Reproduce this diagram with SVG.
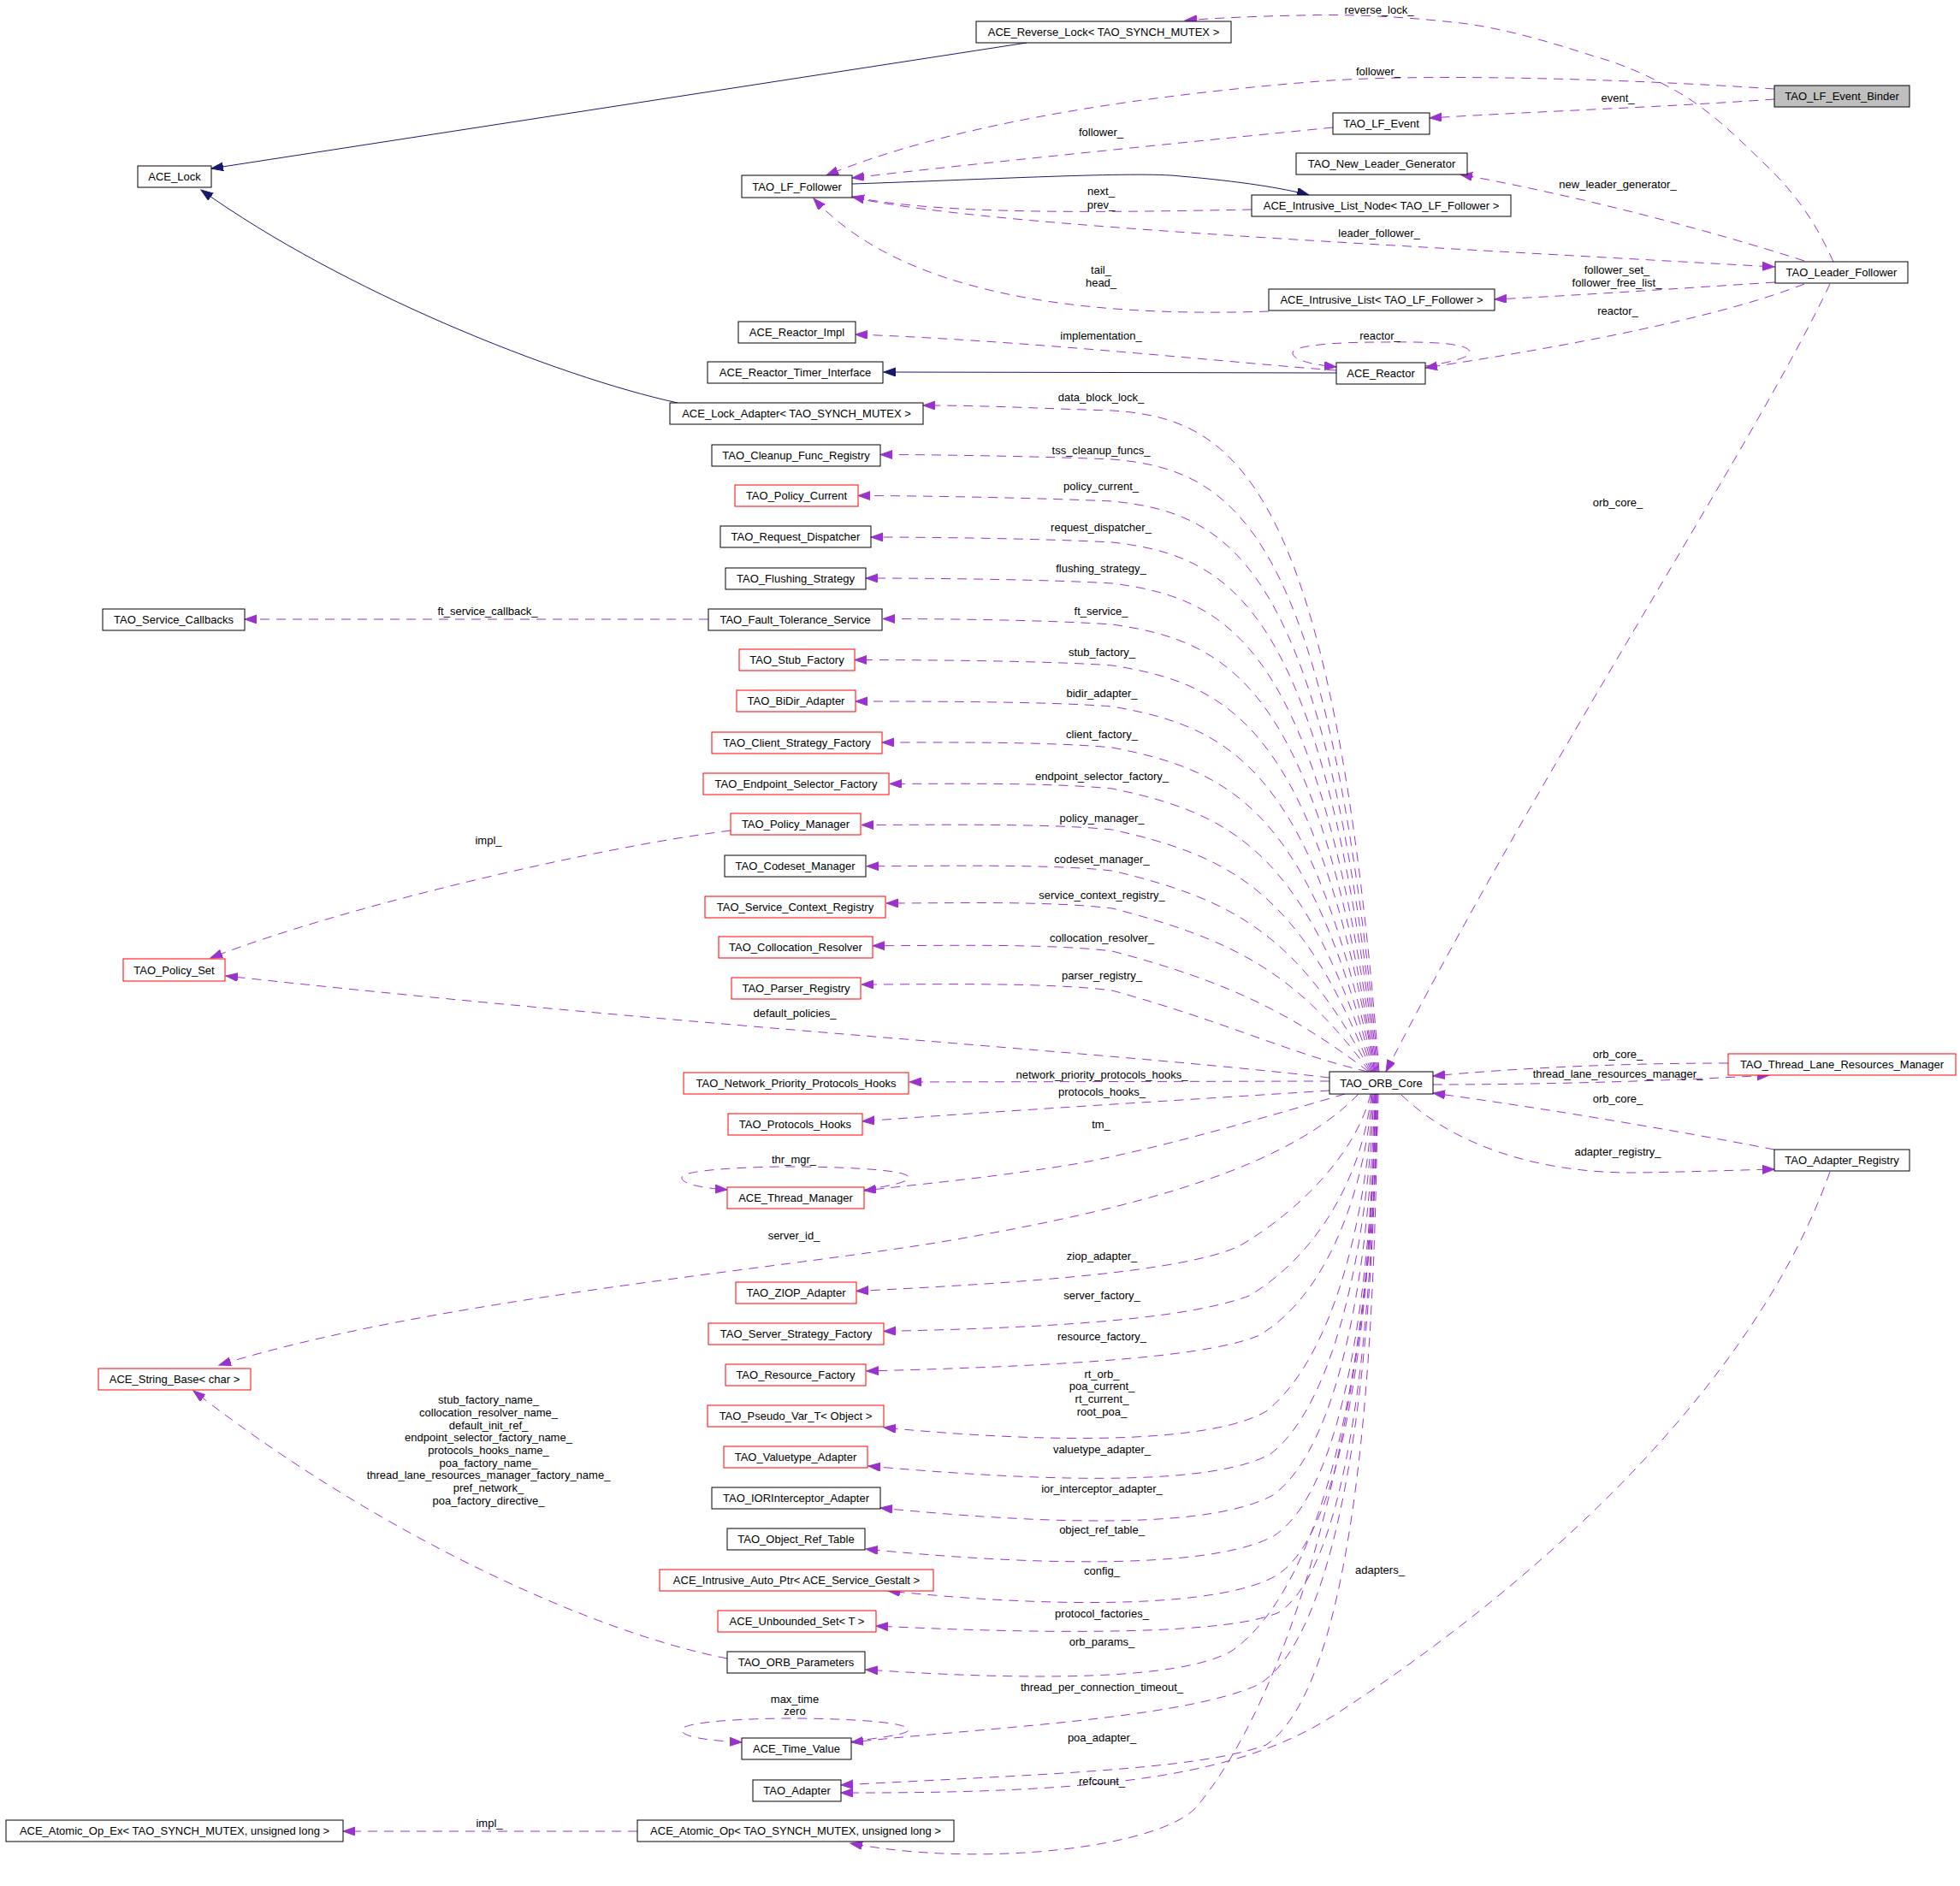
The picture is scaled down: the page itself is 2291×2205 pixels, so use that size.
<svg xmlns="http://www.w3.org/2000/svg" width="2291" height="2205" viewBox="0 0 2291 2205">
<style>
.n rect{fill:#ffffff;stroke:#000000;stroke-width:1}
.n.r rect{stroke:#ff0000}
.n.g rect{fill:#bfbfbf}
text{font-family:"Liberation Sans",Arial,sans-serif;font-size:13px;fill:#000000;text-anchor:middle}
.e path{fill:none;stroke:#9a32cd;stroke-width:1;stroke-dasharray:11,8;marker-end:url(#ap)}
.s path{fill:none;stroke:#191970;stroke-width:1;marker-end:url(#ab)}
</style>
<defs>
<marker id="ap" markerUnits="userSpaceOnUse" viewBox="0 0 16 12" markerWidth="16" markerHeight="12" refX="14" refY="5" orient="auto"><path d="M0,0 L14,5 L0,10 z" fill="#9a32cd" stroke="#9a32cd" stroke-width="1"/></marker>
<marker id="ab" markerUnits="userSpaceOnUse" viewBox="0 0 16 12" markerWidth="16" markerHeight="12" refX="14" refY="5" orient="auto"><path d="M0,0 L14,5 L0,10 z" fill="#191970" stroke="#191970" stroke-width="1"/></marker>
</defs>
<rect x="0" y="0" width="2291" height="2205" fill="#ffffff"/>
<g id="connectors">
<g class="s">
<path d="M1200,50 L247,197"/>
<path d="M792,471 C650,440 400,340 235,222"/>
<path d="M996,215 C1150,210 1330,200 1380,206 C1450,212 1500,220 1530,228"/>
<path d="M1562,436 L1033,435"/>
</g>
<g class="e">
<path d="M2143,306 C2120,255 2095,222 2060,189 C2030,160 2000,130 1962,108 C1930,90 1900,76 1864,66 C1820,52 1770,36 1716,28 C1650,20 1580,16 1520,18 C1470,19 1420,21 1385,24"/>
<path d="M2074,104 C1900,92 1650,85 1530,96 C1300,115 1100,150 966,205"/>
<path d="M2074,116 C1950,125 1800,130 1671,138"/>
<path d="M1558,149 C1400,165 1150,190 996,208"/>
<path d="M2109,305 C2000,270 1850,230 1707,204"/>
<path d="M1463,245 C1300,248 1100,252 996,230"/>
<path d="M996,231 C1150,262 1500,280 2074,312"/>
<path d="M1483,364 C1250,372 1050,340 951,232"/>
<path d="M2075,330 C1950,338 1850,345 1747,350"/>
<path d="M2109,332 C2000,375 1800,410 1666,430"/>
<path d="M1666,428 C1700,423 1720,417 1718,411 C1714,398 1640,400 1613,400 C1560,400 1512,404 1511,412 C1510,420 1530,426 1562,429"/>
<path d="M1562,433 C1450,425 1200,398 1000,391"/>
<path d="M2139,332 C2050,520 1800,900 1620,1253"/>
<path d="M1612,1253 C1558,554 1440,489 1300,480 C1225,478 1159,474 1079,474"/>
<path d="M1611,1253 C1554,611 1440,549 1300,537 C1225,534 1109,531.5 1029,531.5"/>
<path d="M1610,1253 C1550,660 1440,600 1300,586 C1225,582.5 1083,579.5 1003,579.5"/>
<path d="M1609,1253 C1547,708 1440,650 1300,634 C1225,630 1098,628 1018,628"/>
<path d="M1608,1253 C1543,756 1440,700 1300,682 C1225,677.5 1092,676 1012,676"/>
<path d="M1607,1253 C1540,804 1440,750 1300,730 C1225,725 1112,723.5 1032,723.5"/>
<path d="M828,724 L286,724"/>
<path d="M1607,1253 C1536,852 1440,800 1300,778 C1225,772.5 1079,771.5 999,771.5"/>
<path d="M1606,1253 C1532,900 1440,850 1300,826 C1225,820 1080,820 1000,820"/>
<path d="M1605,1253 C1529,948 1440,901 1300,874 C1225,867 1111,868 1031,868"/>
<path d="M1604,1253 C1525,996 1440,951 1300,922 C1225,914.8 1120,916.4 1040,916.4"/>
<path d="M1603,1253 C1522,1044 1440,1001 1300,970 C1225,962.3 1087,964.5 1007,964.5"/>
<path d="M1602,1253 C1518,1092 1440,1051 1300,1018 C1225,1009.7 1093,1012.7 1013,1012.7"/>
<path d="M1601,1253 C1515,1136 1440,1098 1300,1062 C1225,1053 1116,1056 1036,1056"/>
<path d="M1600,1253 C1511,1186 1440,1149 1300,1112 C1225,1102.8 1100,1105.7 1020,1105.7"/>
<path d="M1599,1253 C1508,1232 1440,1197 1300,1158 C1225,1148.2 1087,1151 1007,1151"/>
<path d="M854,971 C700,990 400,1060 246,1120"/>
<path d="M1554,1260 C1300,1230 800,1200 264,1141"/>
<path d="M1554,1264 L1063,1265"/>
<path d="M1554,1275 C1400,1285 1150,1300 1008,1311"/>
<path d="M1572,1279 C1500,1300 1350,1345 1250,1362 C1150,1378 1060,1386 1010,1392"/>
<path d="M1010,1391 C1045,1386 1064,1381 1062,1376 C1058,1366 960,1364 927,1364 C870,1364 800,1368 797,1376 C795,1384 820,1389 850,1391"/>
<path d="M1588,1279 C1510,1360 1350,1410 1100,1452 C900,1485 500,1520 256,1596"/>
<path d="M2020,1243 C1900,1243 1780,1248 1675,1258"/>
<path d="M1675,1268 C1800,1268 1950,1264 2068,1257"/>
<path d="M2074,1344 C1950,1320 1800,1295 1675,1278"/>
<path d="M1638,1280 C1700,1340 1800,1372 1913,1371 C1980,1370 2030,1368 2074,1367"/>
<path d="M1602,1279 C1588,1340 1528,1410 1450,1456 C1390,1486 1200,1500 1001,1509.4"/>
<path d="M1603,1279 C1592,1380 1536,1470 1460,1515 C1380,1545 1200,1553 1033,1556.4"/>
<path d="M1604,1279 C1595,1400 1546,1520 1470,1562 C1400,1590 1200,1598 1013,1603"/>
<path d="M1605,1279 C1597,1430 1556,1590 1480,1650 C1420,1685 1250,1690 1033,1669"/>
<path d="M1606,1279 C1599,1450 1562,1640 1485,1700 C1420,1735 1250,1735 1015,1714"/>
<path d="M1607,1279 C1601,1480 1567,1690 1488,1748 C1420,1785 1250,1785 1029,1763"/>
<path d="M1608,1279 C1603,1500 1572,1740 1490,1795 C1430,1830 1250,1835 1012,1811"/>
<path d="M1608,1279 C1604,1520 1575,1790 1492,1842 C1430,1878 1250,1882 1038,1860"/>
<path d="M1609,1279 C1605,1550 1577,1830 1495,1885 C1440,1910 1250,1912 1024,1901"/>
<path d="M1607,1279 C1604,1620 1540,1860 1440,1930 C1380,1965 1200,1965 1012,1952"/>
<path d="M850,1939 C700,1910 450,1800 226,1626"/>
<path d="M1609,1279 C1606,1650 1557,1920 1470,1970 C1380,2010 1150,2020 995,2037"/>
<path d="M995,2036 C1035,2031 1063,2027 1062,2022 C1058,2011 960,2009 927,2009 C870,2009 800,2013 797,2022 C795,2031 830,2035 867,2037"/>
<path d="M1610,1279 C1607,1700 1567,1980 1480,2040 C1400,2070 1200,2075 983,2087"/>
<path d="M2139,1370 C2050,1620 1800,1850 1560,2005 C1450,2075 1300,2097 983,2096"/>
<path d="M1611,1279 C1605,1600 1530,1950 1400,2111 C1361,2159 1150,2185 994,2155"/>
<path d="M745,2141 L401,2141"/>
</g>
<g id="edge-labels">
<text x="1612" y="16">reverse_lock_</text>
<text x="1611" y="88">follower_</text>
<text x="1891" y="119">event_</text>
<text x="1287" y="159">follower_</text>
<text x="1891" y="220">new_leader_generator_</text>
<text x="1287" y="228">next_</text>
<text x="1287" y="244">prev_</text>
<text x="1612" y="277">leader_follower_</text>
<text x="1287" y="320">tail_</text>
<text x="1287" y="335">head_</text>
<text x="1890" y="320">follower_set_</text>
<text x="1890" y="335">follower_free_list_</text>
<text x="1891" y="368">reactor_</text>
<text x="1613" y="397">reactor_</text>
<text x="1287" y="397">implementation_</text>
<text x="1287" y="469">data_block_lock_</text>
<text x="1287" y="531">tss_cleanup_funcs_</text>
<text x="1287" y="573">policy_current_</text>
<text x="1287" y="621">request_dispatcher_</text>
<text x="1287" y="669">flushing_strategy_</text>
<text x="1287" y="719">ft_service_</text>
<text x="570" y="719">ft_service_callback_</text>
<text x="1891" y="592">orb_core_</text>
<text x="1288" y="767">stub_factory_</text>
<text x="1288" y="815">bidir_adapter_</text>
<text x="1288" y="863">client_factory_</text>
<text x="1288" y="912">endpoint_selector_factory_</text>
<text x="1288" y="961">policy_manager_</text>
<text x="1288" y="1009">codeset_manager_</text>
<text x="1288" y="1051">service_context_registry_</text>
<text x="1288" y="1101">collocation_resolver_</text>
<text x="1288" y="1145">parser_registry_</text>
<text x="571" y="987">impl_</text>
<text x="929" y="1189">default_policies_</text>
<text x="1288" y="1261">network_priority_protocols_hooks_</text>
<text x="1288" y="1281">protocols_hooks_</text>
<text x="1287" y="1319">tm_</text>
<text x="928" y="1360">thr_mgr_</text>
<text x="928" y="1449">server_id_</text>
<text x="1891" y="1237">orb_core_</text>
<text x="1891" y="1260">thread_lane_resources_manager_</text>
<text x="1891" y="1289">orb_core_</text>
<text x="1891" y="1351">adapter_registry_</text>
<text x="1288" y="1473">ziop_adapter_</text>
<text x="1288" y="1519">server_factory_</text>
<text x="1288" y="1567">resource_factory_</text>
<text x="1288" y="1611">rt_orb_</text>
<text x="1288" y="1625">poa_current_</text>
<text x="1288" y="1640">rt_current_</text>
<text x="1288" y="1655">root_poa_</text>
<text x="1288" y="1699">valuetype_adapter_</text>
<text x="1288" y="1745">ior_interceptor_adapter_</text>
<text x="1288" y="1793">object_ref_table_</text>
<text x="1288" y="1841">config_</text>
<text x="1288" y="1891">protocol_factories_</text>
<text x="1288" y="1924">orb_params_</text>
<text x="1288" y="1977">thread_per_connection_timeout_</text>
<text x="929" y="1991">max_time</text>
<text x="929" y="2005">zero</text>
<text x="1288" y="2036">poa_adapter_</text>
<text x="1288" y="2087">refcount_</text>
<text x="571" y="1641">stub_factory_name_</text>
<text x="571" y="1656">collocation_resolver_name_</text>
<text x="571" y="1671">default_init_ref_</text>
<text x="571" y="1685">endpoint_selector_factory_name_</text>
<text x="571" y="1700">protocols_hooks_name_</text>
<text x="571" y="1715">poa_factory_name_</text>
<text x="571" y="1729">thread_lane_resources_manager_factory_name_</text>
<text x="571" y="1744">pref_network_</text>
<text x="571" y="1759">poa_factory_directive_</text>
<text x="1613" y="1840">adapters_</text>
<text x="572" y="2136">impl_</text>
</g>
</g>
<g id="n1" class="n"><rect x="1141" y="25" width="298" height="25"/><text x="1290" y="42">ACE_Reverse_Lock&lt; TAO_SYNCH_MUTEX &gt;</text></g>
<g id="n2" class="n"><rect x="161" y="194" width="86" height="25"/><text x="204" y="211">ACE_Lock</text></g>
<g id="n3" class="n g"><rect x="2074" y="100" width="158" height="25"/><text x="2153" y="117">TAO_LF_Event_Binder</text></g>
<g id="n4" class="n"><rect x="1558" y="132" width="113" height="25"/><text x="1614.5" y="149">TAO_LF_Event</text></g>
<g id="n5" class="n"><rect x="1515" y="179" width="200" height="25"/><text x="1615" y="196">TAO_New_Leader_Generator</text></g>
<g id="n6" class="n"><rect x="867" y="205" width="129" height="26"/><text x="931.5" y="222.5">TAO_LF_Follower</text></g>
<g id="n7" class="n"><rect x="1463" y="228" width="303" height="25"/><text x="1614.5" y="245">ACE_Intrusive_List_Node&lt; TAO_LF_Follower &gt;</text></g>
<g id="n8" class="n"><rect x="2075" y="306" width="155" height="25"/><text x="2152.5" y="323">TAO_Leader_Follower</text></g>
<g id="n9" class="n"><rect x="1483" y="338" width="264" height="25"/><text x="1615" y="355">ACE_Intrusive_List&lt; TAO_LF_Follower &gt;</text></g>
<g id="n10" class="n"><rect x="863" y="376" width="137" height="25"/><text x="931.5" y="393">ACE_Reactor_Impl</text></g>
<g id="n11" class="n"><rect x="827" y="423" width="205" height="25"/><text x="929.5" y="440">ACE_Reactor_Timer_Interface</text></g>
<g id="n12" class="n"><rect x="1562" y="424" width="104" height="25"/><text x="1614" y="441">ACE_Reactor</text></g>
<g id="n13" class="n"><rect x="783" y="471" width="296" height="25"/><text x="931" y="488">ACE_Lock_Adapter&lt; TAO_SYNCH_MUTEX &gt;</text></g>
<g id="n14" class="n"><rect x="832" y="520" width="197" height="25"/><text x="930.5" y="537">TAO_Cleanup_Func_Registry</text></g>
<g id="n15" class="n r"><rect x="859" y="567" width="144" height="25"/><text x="931" y="584">TAO_Policy_Current</text></g>
<g id="n16" class="n"><rect x="842" y="615" width="176" height="25"/><text x="930" y="632">TAO_Request_Dispatcher</text></g>
<g id="n17" class="n"><rect x="848" y="664" width="164" height="25"/><text x="930" y="681">TAO_Flushing_Strategy</text></g>
<g id="n18" class="n"><rect x="120" y="712" width="166" height="25"/><text x="203" y="729">TAO_Service_Callbacks</text></g>
<g id="n19" class="n"><rect x="828" y="712" width="203" height="25"/><text x="929.5" y="729">TAO_Fault_Tolerance_Service</text></g>
<g id="n20" class="n r"><rect x="864" y="759" width="135" height="25"/><text x="931.5" y="776">TAO_Stub_Factory</text></g>
<g id="n21" class="n r"><rect x="861" y="807" width="139" height="25"/><text x="930.5" y="824">TAO_BiDir_Adapter</text></g>
<g id="n22" class="n r"><rect x="832" y="856" width="199" height="25"/><text x="931.5" y="873">TAO_Client_Strategy_Factory</text></g>
<g id="n23" class="n r"><rect x="822" y="904" width="217" height="25"/><text x="930.5" y="921">TAO_Endpoint_Selector_Factory</text></g>
<g id="n24" class="n r"><rect x="854" y="951" width="152" height="25"/><text x="930" y="968">TAO_Policy_Manager</text></g>
<g id="n25" class="n"><rect x="847" y="1000" width="165" height="25"/><text x="929.5" y="1017">TAO_Codeset_Manager</text></g>
<g id="n26" class="n r"><rect x="824" y="1048" width="211" height="25"/><text x="929.5" y="1065">TAO_Service_Context_Registry</text></g>
<g id="n27" class="n r"><rect x="840" y="1095" width="180" height="25"/><text x="930" y="1112">TAO_Collocation_Resolver</text></g>
<g id="n28" class="n r"><rect x="855" y="1143" width="151" height="25"/><text x="930.5" y="1160">TAO_Parser_Registry</text></g>
<g id="n29" class="n r"><rect x="144" y="1121" width="119" height="26"/><text x="203.5" y="1138.5">TAO_Policy_Set</text></g>
<g id="n30" class="n r"><rect x="2020" y="1232" width="266" height="25"/><text x="2153" y="1249">TAO_Thread_Lane_Resources_Manager</text></g>
<g id="n31" class="n"><rect x="1554" y="1253" width="121" height="26"/><text x="1614.5" y="1270.5">TAO_ORB_Core</text></g>
<g id="n32" class="n r"><rect x="799" y="1254" width="263" height="25"/><text x="930.5" y="1271">TAO_Network_Priority_Protocols_Hooks</text></g>
<g id="n33" class="n r"><rect x="851" y="1302" width="157" height="25"/><text x="929.5" y="1319">TAO_Protocols_Hooks</text></g>
<g id="n34" class="n"><rect x="2074" y="1344" width="158" height="25"/><text x="2153" y="1361">TAO_Adapter_Registry</text></g>
<g id="n35" class="n r"><rect x="850" y="1388" width="160" height="25"/><text x="930" y="1405">ACE_Thread_Manager</text></g>
<g id="n36" class="n r"><rect x="860" y="1499" width="141" height="25"/><text x="930.5" y="1516">TAO_ZIOP_Adapter</text></g>
<g id="n37" class="n r"><rect x="828" y="1547" width="205" height="25"/><text x="930.5" y="1564">TAO_Server_Strategy_Factory</text></g>
<g id="n38" class="n r"><rect x="848" y="1595" width="164" height="25"/><text x="930" y="1612">TAO_Resource_Factory</text></g>
<g id="n39" class="n r"><rect x="115" y="1600" width="178" height="25"/><text x="204" y="1617">ACE_String_Base&lt; char &gt;</text></g>
<g id="n40" class="n r"><rect x="827" y="1643" width="206" height="25"/><text x="930" y="1660">TAO_Pseudo_Var_T&lt; Object &gt;</text></g>
<g id="n41" class="n r"><rect x="846" y="1691" width="168" height="25"/><text x="930" y="1708">TAO_Valuetype_Adapter</text></g>
<g id="n42" class="n"><rect x="832" y="1739" width="197" height="25"/><text x="930.5" y="1756">TAO_IORInterceptor_Adapter</text></g>
<g id="n43" class="n"><rect x="850" y="1787" width="161" height="25"/><text x="930.5" y="1804">TAO_Object_Ref_Table</text></g>
<g id="n44" class="n r"><rect x="771" y="1835" width="320" height="25"/><text x="931" y="1852">ACE_Intrusive_Auto_Ptr&lt; ACE_Service_Gestalt &gt;</text></g>
<g id="n45" class="n r"><rect x="839" y="1883" width="185" height="25"/><text x="931.5" y="1900">ACE_Unbounded_Set&lt; T &gt;</text></g>
<g id="n46" class="n"><rect x="850" y="1931" width="161" height="25"/><text x="930.5" y="1948">TAO_ORB_Parameters</text></g>
<g id="n47" class="n"><rect x="867" y="2032" width="128" height="25"/><text x="931" y="2049">ACE_Time_Value</text></g>
<g id="n48" class="n"><rect x="880" y="2081" width="103" height="25"/><text x="931.5" y="2098">TAO_Adapter</text></g>
<g id="n49" class="n"><rect x="7" y="2128" width="394" height="25"/><text x="204" y="2145">ACE_Atomic_Op_Ex&lt; TAO_SYNCH_MUTEX, unsigned long &gt;</text></g>
<g id="n50" class="n"><rect x="745" y="2128" width="370" height="25"/><text x="930" y="2145">ACE_Atomic_Op&lt; TAO_SYNCH_MUTEX, unsigned long &gt;</text></g>
</svg>
